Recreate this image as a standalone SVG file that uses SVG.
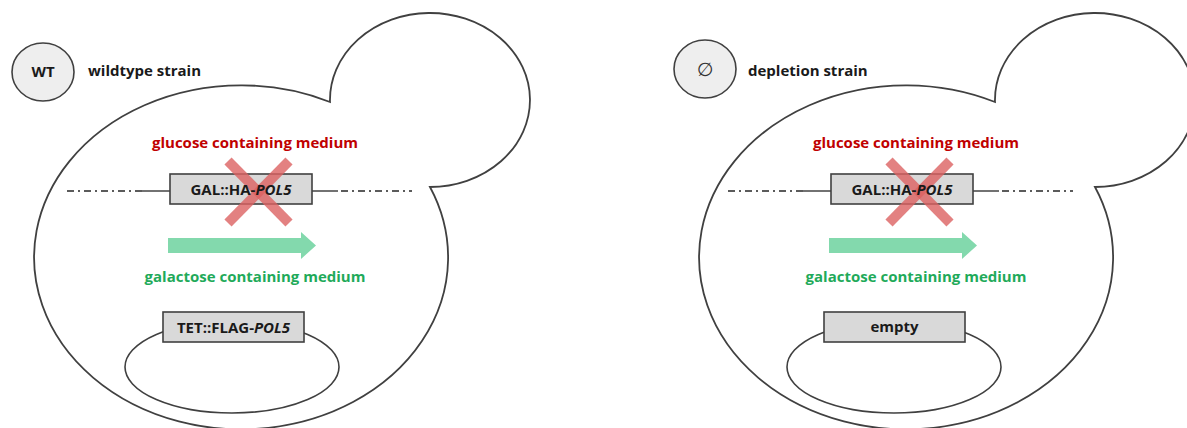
<svg xmlns="http://www.w3.org/2000/svg" width="1187" height="428" viewBox="0 0 1187 428">
  <defs>
    <style>
      .cell { fill: none; stroke: #404040; stroke-width: 1.8; }
      .badge { fill: #eeeeee; stroke: #404040; stroke-width: 1.6; }
      .box { fill: #d9d9d9; stroke: #404040; stroke-width: 1.6; }
      .dna { fill: none; stroke: #262626; stroke-width: 1.3; }
      .dashdot { fill: none; stroke: #262626; stroke-width: 1.3; stroke-dasharray: 7 4 2 4; }
      .plasmid { fill: none; stroke: #404040; stroke-width: 1.6; }
      .lbl { font-family: "Open Sans", "Liberation Sans", sans-serif; font-weight: bold; font-size: 15px; fill: #1a1a1a; }
      .mid { text-anchor: middle; }
      .glc { fill: #c00000; }
      .gal { fill: #1faa5a; }
      .arrow { fill: #83d9ad; }
      .cross { stroke: #dd6262; stroke-width: 10; opacity: 0.8; }
    </style>
    <!-- yeast cell outline: mother cell with a bud on its upper right -->
    <path id="yeast" class="cell" d="M 330 102 A 207 172 0 1 0 430 187 A 100 87 0 1 0 330 102 Z"/>
    <!-- chromosomal locus with the GAL-driven gene, crossed out on glucose -->
    <g id="locus">
      <line class="dashdot" x1="67" y1="191" x2="142" y2="191"/>
      <line class="dna" x1="142" y1="191" x2="170" y2="191"/>
      <line class="dna" x1="312" y1="191" x2="338" y2="191"/>
      <line class="dashdot" x1="341" y1="191" x2="412" y2="191"/>
      <rect class="box" x="170" y="174" width="142" height="30"/>
      <line class="cross" x1="228" y1="161" x2="289" y2="223"/>
      <line class="cross" x1="289" y1="161" x2="228" y2="223"/>
      <text class="lbl mid" x="241" y="195">GAL::HA-<tspan font-style="italic">POL5</tspan></text>
    </g>
    <g id="media">
      <text class="lbl mid glc" x="255" y="148">glucose containing medium</text>
      <polygon class="arrow" points="168,238 301,238 301,232 316,245.5 301,259 301,253 168,253"/>
      <text class="lbl mid gal" x="255" y="282">galactose containing medium</text>
    </g>
  </defs>

  <!-- wildtype strain -->
  <g id="wt-cell">
    <use href="#yeast"/>
  </g>
  <g id="wt-badge">
    <ellipse class="badge" cx="43" cy="72" rx="31" ry="29"/>
    <text class="lbl mid" x="43" y="77">WT</text>
    <text class="lbl" x="88" y="76">wildtype strain</text>
  </g>
  <g id="wt-locus">
    <use href="#media"/>
    <use href="#locus"/>
  </g>
  <g id="wt-plasmid">
    <ellipse class="plasmid" cx="232" cy="367" rx="107" ry="46"/>
    <rect class="box" x="163" y="312" width="141" height="30"/>
    <text class="lbl mid" x="233.5" y="333">TET::FLAG-<tspan font-style="italic">POL5</tspan></text>
  </g>

  <!-- depletion strain -->
  <g id="dep-cell" transform="translate(665,0)">
    <use href="#yeast"/>
  </g>
  <g id="dep-badge">
    <ellipse class="badge" cx="705" cy="69" rx="31" ry="29"/>
    <text x="705" y="76" text-anchor="middle" font-family="'DejaVu Sans', sans-serif" font-size="19" fill="#333333">∅</text>
    <text class="lbl" x="748" y="76">depletion strain</text>
  </g>
  <g id="dep-locus" transform="translate(661,0)">
    <use href="#media"/>
    <use href="#locus"/>
  </g>
  <g id="dep-plasmid">
    <ellipse class="plasmid" cx="894" cy="367" rx="107" ry="46"/>
    <rect class="box" x="824" y="312" width="141" height="30"/>
    <text class="lbl mid" x="894.5" y="332">empty</text>
  </g>
</svg>
